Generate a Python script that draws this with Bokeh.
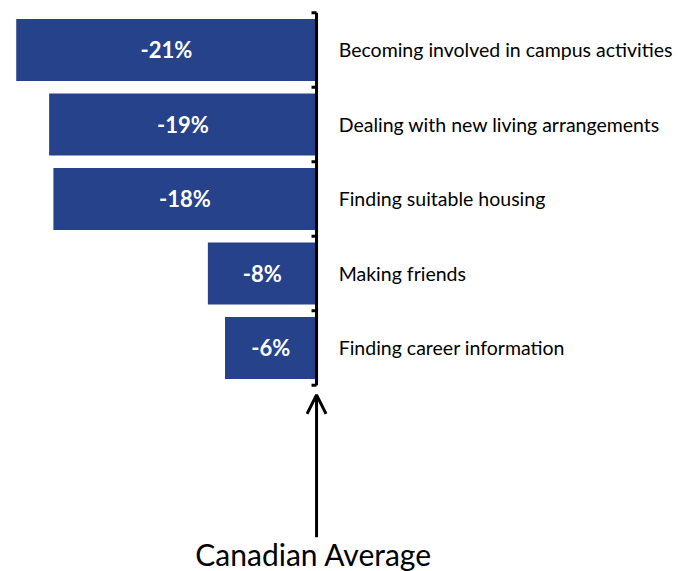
from bokeh.plotting import figure
from bokeh.models import Range1d, ColumnDataSource, Arrow, OpenHead, Label
from bokeh.core.properties import value
from bokeh.embed import file_html
from bokeh.resources import INLINE

categories = [
    "Becoming involved in campus activities",
    "Dealing with new living arrangements",
    "Finding suitable housing",
    "Making friends",
    "Finding career information",
]
values = [-21.0, -18.7, -18.4, -7.6, -6.4]
bar_labels = ["%d%%" % round(v) for v in values]
reference_label = "Canadian Average"

n = len(categories)
pos = list(range(n))

W, H = 693, 571
p = figure(width=W, height=H, output_backend="svg", toolbar_location=None,
           x_range=Range1d(-22.10, 26.36), y_range=Range1d(7.0, -0.664),
           min_border=0, outline_line_color=None)
p.axis.visible = False
p.grid.visible = False
p.background_fill_color = "white"

src = ColumnDataSource(dict(y=pos, v=values, lab=bar_labels, cat=categories,
                            mid=[v / 2 for v in values]))
p.hbar(y="y", left=0, right="v", height=0.83, source=src,
       fill_color="#26428B", line_color=None)
p.text(x="mid", y="y", text="lab", source=src, text_color="white",
       text_font=value("Lato"), text_font_style="bold", text_font_size="22px",
       text_align="center", text_baseline="middle")
p.text(x=1.55, y="y", text="cat", source=src, text_color="black",
       text_font=value("Lato"), text_font_size="19.5px",
       text_align="left", text_baseline="middle")

# reference axis line with boundary ticks
bounds = [i - 0.5 for i in range(n + 1)]
p.segment(x0=0, y0=bounds[0], x1=0, y1=bounds[-1], line_color="black", line_width=3)
p.segment(x0=[-0.35] * len(bounds), y0=bounds, x1=[0] * len(bounds), y1=bounds,
          line_color="black", line_width=3)

p.add_layout(Arrow(end=OpenHead(size=19, line_width=3, line_color="black"),
                   x_start=0, y_start=6.54, x_end=0, y_end=4.63,
                   line_width=3, line_color="black"))
p.add_layout(Label(x=-0.2, y=6.77, text=reference_label, text_font="Lato",
                   text_font_size="30px", text_align="center",
                   text_baseline="middle", text_color="black"))

open("out.html", "w").write(file_html(p, INLINE))
